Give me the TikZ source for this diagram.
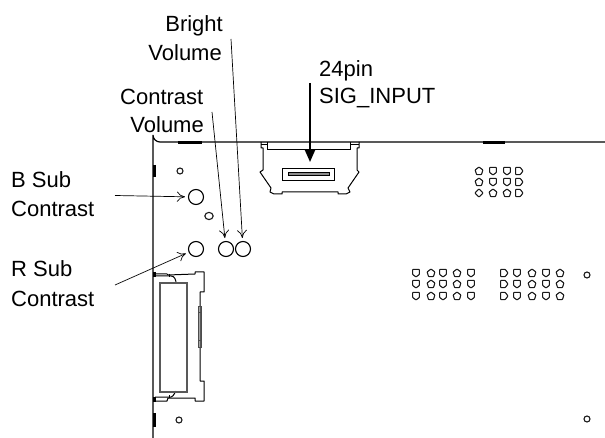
\documentclass[tikz,border=0pt]{standalone}
\usepackage{fontspec}
\usetikzlibrary{arrows.meta}
\setmainfont{Liberation Sans}
\begin{document}
\begin{tikzpicture}[x=1pt,y=-1pt,
  lbl/.style={font=\fontsize{22}{25}\selectfont,inner sep=0pt,anchor=base west},
  lblr/.style={lbl,anchor=base east},
  outline/.style={line width=1.2pt,black},
  thinline/.style={line width=1pt,black},
  thickmark/.style={line width=3pt,black},
  hole/.style={line width=1.1pt,black!90,fill=white},
  ring/.style={circle,draw,line width=1.1pt,minimum size=15pt,inner sep=0pt},
  lead/.style={line width=0.7pt,black,shorten >=3pt,-{To[length=8pt,width=10pt,line width=0.7pt]}}]
\useasboundingbox (0,0) rectangle (605,438);
\newcommand{\hshield}[2]{\draw[hole,rounded corners=0.6pt] (#1-3.4,#2-3.6) -- (#1+3.4,#2-3.6) -- (#1+3.4,#2+1.4) -- (#1,#2+4) -- (#1-3.4,#2+1.4) -- cycle;}
\newcommand{\hshieldr}[2]{\draw[hole,rounded corners=0.6pt] (#1-3.4,#2-3.6) -- (#1+1.2,#2-3.6) -- (#1+4,#2) -- (#1+1.2,#2+3.6) -- (#1-3.4,#2+3.6) -- cycle;}
\newcommand{\hdiamond}[2]{\draw[hole,rounded corners=0.8pt] (#1,#2-4.2) -- (#1+4.2,#2) -- (#1,#2+4.2) -- (#1-4.2,#2) -- cycle;}
\newcommand{\hpent}[2]{\draw[hole,rounded corners=0.6pt] (#1-3.9,#2-1) -- (#1,#2-4) -- (#1+3.9,#2-1) -- (#1+2.4,#2+3.6) -- (#1-2.4,#2+3.6) -- cycle;}
% board outline
\draw[outline] (605,142) -- (160,142) arc[start angle=90,end angle=180,radius=7] -- (153,438);
\draw[thickmark] (178,142.5) -- (202,142.5);
\draw[thickmark] (483,142.5) -- (505,142.5);
\draw[thickmark] (154,165) -- (154,177);
\draw[thickmark] (154,272) -- (154,277);
\draw[thickmark] (154,397) -- (154,402);
\draw[thickmark] (154,413) -- (154,427);
% top connector
\draw[thinline,line join=round] (261,142) -- (261,148) -- (263,148) -- (263,170) -- (260,172) -- (271,188) -- (270,192) -- (274,194) -- (282,194) -- (282,192) -- (338,192) -- (338,194) -- (346,194) -- (350,192) -- (348,188) -- (359,172) -- (357,170) -- (357,148) -- (359,148) -- (359,142);
\draw[thinline] (267,142) -- (267,150) -- (350,150) -- (350,142);
\draw[thinline] (261,145) -- (267,145) (350,145) -- (359,145);
\draw[thinline] (282,169) rectangle (334,181);
\draw[thinline,fill=black!45] (288,172.5) rectangle (329,175.5);
% side connector
\draw[thinline,line join=round] (154,274) -- (167,274) -- (168,275) -- (195,274) -- (195,272) -- (204,272) -- (204,292) -- (200,292) -- (200,381) -- (204,381) -- (204,401) -- (195,401) -- (195,398) -- (168,398) -- (167,401) -- (154,401);
\draw[thinline] (155,276) -- (171,276) to[out=0,in=90] (176,283);
\draw[thinline] (176,392) to[out=90,in=0] (171,397) -- (155,397);
\draw[thinline] (169,274) -- (169,277) (169,395) -- (169,398);
\draw[line width=1.2pt,black!65] (160,283) rectangle (187,392);
\draw[thinline,black!70] (198,307) rectangle (201,347);
\draw[thinline,black!70] (198,313) -- (201,313) (198,340) -- (201,340);
% round holes
\draw[hole] (180,171) circle[radius=3];
\draw[hole] (209,216) ellipse[x radius=4.2,y radius=3.6];
\node[ring] (rc) at (196,249) {};
\node[ring] (cv) at (226,249) {};
\node[ring] (bv) at (243,249) {};
\node[ring] (bc) at (196,197) {};
\draw[hole] (179,420) circle[radius=3];
\draw[hole] (587,419) circle[radius=3];
\draw[hole] (587,275) circle[radius=3];
% hole patterns
\foreach \y in {273,284,296}{
  \hshield{416}{\y}\hpent{431}{\y}\hshield{443}{\y}\hpent{457}{\y}\hshield{471}{\y}
  \hshieldr{504}{\y}\hshield{517}{\y}\hpent{532}{\y}\hshield{546}{\y}\hpent{560}{\y}}
\foreach \y in {171,182}{\hpent{479}{\y}\hshield{493}{\y}\hshield{507}{\y}\hshieldr{519}{\y}}
\hdiamond{479}{193}\hpent{493}{193}\hpent{507}{193}\hshieldr{519}{193}
% labels
\node[lblr] (bright) at (223,32) {Bright};
\node[lblr] (brightb) at (222,61) {Volume};
\node[lbl] (con) at (120,105) {Contrast};
\node[lblr] (conb) at (204,133) {Volume};
\node[lbl] (pin) at (319,77) {24pin};
\node[lbl] (sig) at (319,104) {SIG\_INPUT};
\node[lbl] (bsub) at (11,188) {B Sub};
\node[lbl] (bcon) at (11,217) {Contrast};
\node[lbl] (rsub) at (11,277) {R Sub};
\node[lbl] (rcon) at (11,306) {Contrast};
% leaders
\coordinate (a1) at (115,195.5); \coordinate (a2) at (115,285);
\coordinate (a3) at (212,112); \coordinate (a4) at (231,39); \coordinate (a5) at (310,83);
\draw[lead] (a1) -- (bc);
\draw[lead] (a2) -- (rc);
\draw[lead] (a3) -- (cv);
\draw[lead] (a4) -- (bv);
\draw[line width=1.8pt,black,-{Triangle[length=12pt,width=10pt]}] (a5) -- (310,162);
\end{tikzpicture}
\end{document}
